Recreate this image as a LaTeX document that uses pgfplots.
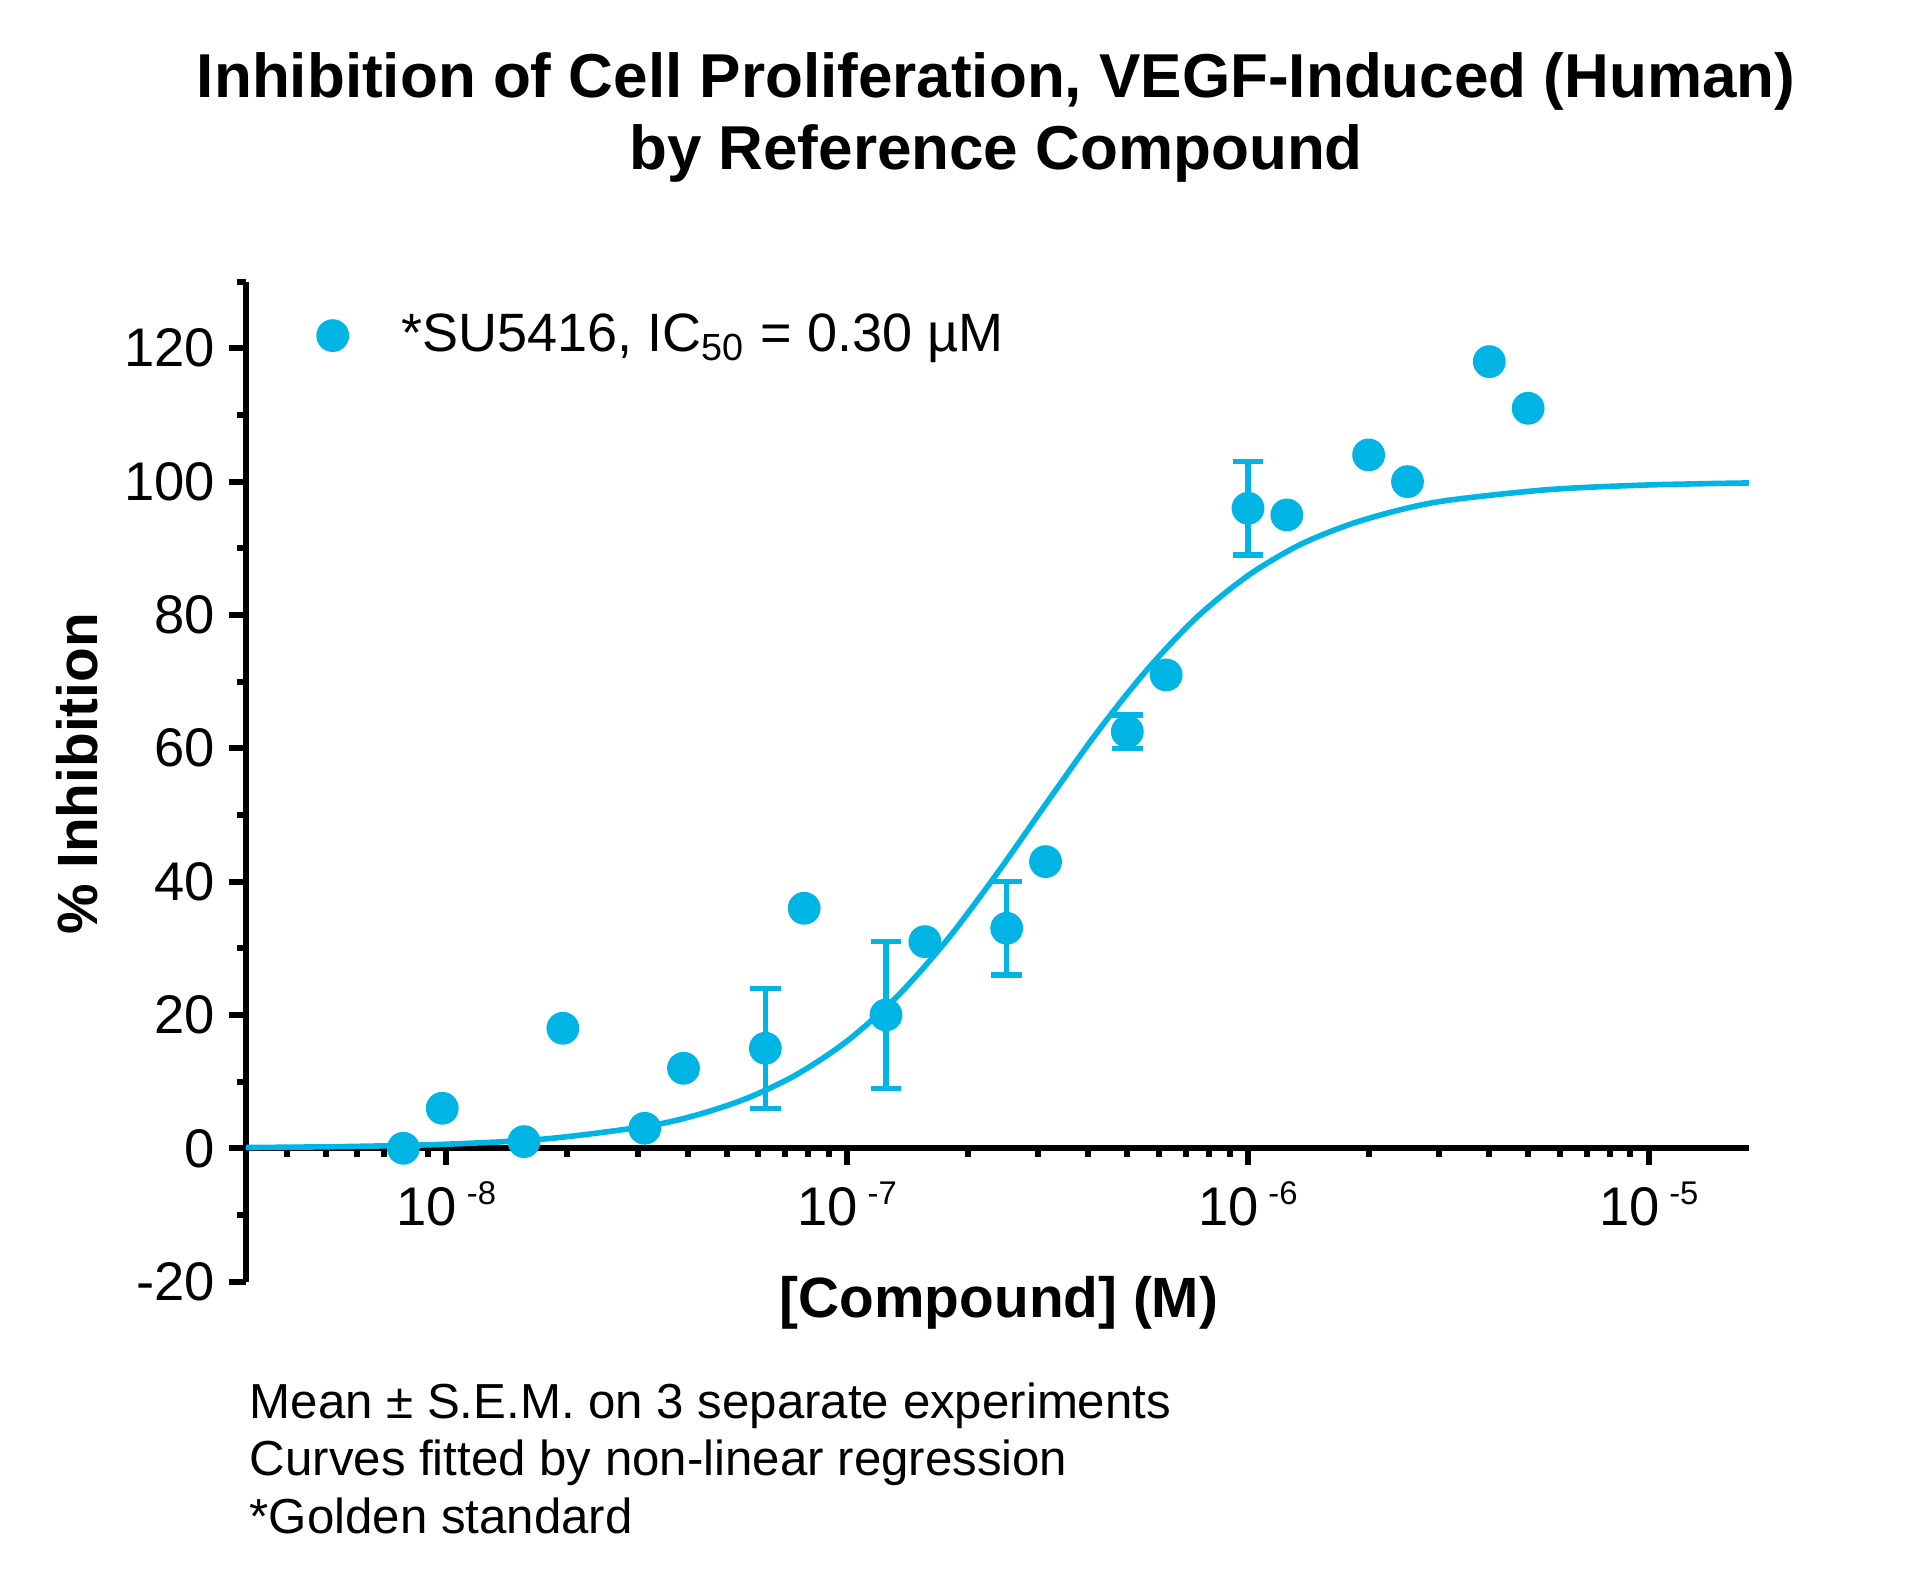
\documentclass[border=0pt]{standalone}
\usepackage{fontspec}
\setmainfont{Liberation Sans}
\usepackage{pgfplots}
\usepackage{pgfplotstable}
\pgfplotsset{compat=1.18}
\definecolor{cy}{RGB}{0,180,228}
\newcommand{\tenexp}[1]{10\kern2.4pt\raisebox{5.2pt}{\fontsize{8.2}{9}\selectfont #1}}

\pgfplotstableread{
x y
7.8125e-9 0
9.766e-9 6
1.5625e-8 1
1.953e-8 18
3.125e-8 3
3.906e-8 12
6.25e-8 15
7.8125e-8 36
1.25e-7 20
1.5625e-7 31
2.5e-7 33
3.125e-7 43
5e-7 62.5
6.25e-7 71
1e-6 96
1.25e-6 95
2e-6 104
2.5e-6 100
4e-6 118
5e-6 111
}\pts

\pgfplotstableread{
x y e
6.25e-8 15 9
1.25e-7 20 11
2.5e-7 33 7
5e-7 62.5 2.5
1e-6 96 7
}\errs

\pgfplotstableread{
x y
3.162e-9 0.11
5.623e-9 0.26
1e-8 0.61
1.778e-8 1.42
3.162e-8 3.31
4.217e-8 5.0
5.623e-8 7.5
7.499e-8 11.1
1e-7 16.1
1.334e-7 22.8
1.778e-7 31.3
2.371e-7 41.3
3.162e-7 52.0
4.217e-7 62.5
5.623e-7 71.9
7.499e-7 79.8
1e-6 85.9
1.334e-6 90.4
1.778e-6 93.5
2.371e-6 95.7
3.162e-6 97.2
5.623e-6 98.8
1e-5 99.5
1.778e-5 99.8
}\fit

\begin{document}
\begin{tikzpicture}
\begin{axis}[
  name=ax,
  scale only axis, width=375.75pt, height=250pt,
  xmode=log, xmin=3.1623e-9, xmax=1.7783e-5,
  ymin=-20, ymax=130,
  axis y line=left, axis x line=middle,
  axis line style={-, line width=1.6pt, black},
  tick align=outside,
  major tick length=4.25pt, minor tick length=2.25pt,
  tick style={line width=1.5pt, black},
  ytick={-20,0,20,40,60,80,100,120},
  minor ytick={-10,10,30,50,70,90,110,130},
  xtick={1e-8,1e-7,1e-6,1e-5},
  xticklabels={{\tenexp{-8}},{\tenexp{-7}},{\tenexp{-6}},{\tenexp{-5}}},
  minor xtick={4e-9,5e-9,6e-9,7e-9,8e-9,9e-9,2e-8,3e-8,4e-8,5e-8,6e-8,7e-8,8e-8,9e-8,2e-7,3e-7,4e-7,5e-7,6e-7,7e-7,8e-7,9e-7,2e-6,3e-6,4e-6,5e-6,6e-6,7e-6,8e-6,9e-6},
  tick label style={font=\fontsize{13.6}{16}\selectfont},
  /pgf/number format/assume math mode=true,
  xticklabel style={anchor=base, yshift=-15pt},
  clip=false,
  legend style={draw=none, fill=none, inner sep=0pt, font=\fontsize{13.5}{16}\selectfont,
    at={(axis description cs:0.0468,0.946)}, anchor=west,
    nodes={inner sep=0pt},
    /tikz/every odd column/.append style={column sep=13.35pt}},
  legend image code/.code={\draw[#1] plot coordinates {(0cm,0cm)};},
]
\addplot[draw=none, mark=none, forget plot,
  error bars/.cd, y dir=both, y explicit,
  error bar style={line width=1.35pt, cy},
  error mark options={rotate=90, mark size=3.8pt, line width=1.35pt, cy}]
  table[x=x, y=y, y error=e] {\errs};
\addplot[cy, line width=1.4pt, smooth, forget plot] table[x=x, y=y] {\fit};
\addplot[only marks, mark=*, mark size=3.9pt, color=cy, mark options={draw=none, fill=cy}]
  table[x=x, y=y] {\pts};
\addlegendentry{*SU5416, IC\textsubscript{50} = 0.30 \textmu M}
\end{axis}
\node[anchor=base, font=\fontsize{15.5}{18}\selectfont\bfseries] at ([xshift=187.5pt,yshift=295.9pt]ax.south west) {Inhibition of Cell Proliferation, VEGF-Induced (Human)};
\node[anchor=base, font=\fontsize{15.5}{18}\selectfont\bfseries] at ([xshift=187.5pt,yshift=277.9pt]ax.south west) {by Reference Compound};
\node[anchor=base, rotate=90, font=\fontsize{14.2}{17}\selectfont\bfseries] at ([xshift=-37pt,yshift=126.9pt]ax.south west) {\% Inhibition};
\node[anchor=base, font=\fontsize{14.2}{17}\selectfont\bfseries] at ([xshift=188.25pt,yshift=-8.85pt]ax.south west) {[Compound] (M)};
\node[anchor=base west, inner sep=0pt, font=\fontsize{12.3}{15}\selectfont] at ([xshift=0.75pt,yshift=-34.1pt]ax.south west) {Mean ± S.E.M. on 3 separate experiments};
\node[anchor=base west, inner sep=0pt, font=\fontsize{12.3}{15}\selectfont] at ([xshift=0.75pt,yshift=-48.35pt]ax.south west) {Curves fitted by non-linear regression};
\node[anchor=base west, inner sep=0pt, font=\fontsize{12.3}{15}\selectfont] at ([xshift=0.75pt,yshift=-62.85pt]ax.south west) {*Golden standard};
\pgfresetboundingbox
\path[use as bounding box] ([xshift=-61.5pt,yshift=-76.35pt]ax.south west) rectangle ([xshift=420pt,yshift=320.4pt]ax.south west);
\end{tikzpicture}
\end{document}
